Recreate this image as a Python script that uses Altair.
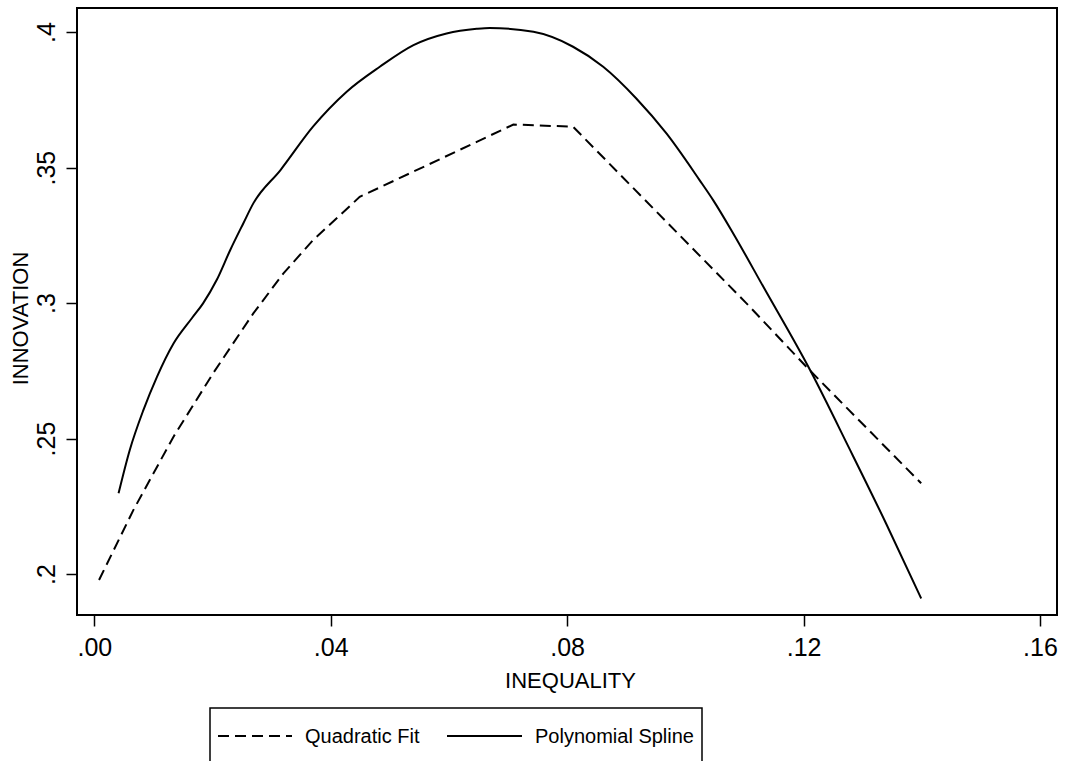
import altair as alt
import pandas as pd

# ---- data ----
quad_x = [0.0008, 0.0066, 0.0134, 0.0201, 0.0269, 0.0320, 0.0370, 0.0449,
          0.0647, 0.0709, 0.0810, 0.1103, 0.1210, 0.1399]
quad_y = [0.1978, 0.2236, 0.2507, 0.2741, 0.2962, 0.3110, 0.3232, 0.3392,
          0.3595, 0.3659, 0.3651, 0.3000, 0.2753, 0.2335]

spline_x = [0.0041, 0.0060, 0.0083, 0.0106, 0.0134, 0.0165, 0.0184, 0.0207, 0.0230, 0.0252,
            0.0269, 0.0315, 0.0370, 0.0427, 0.0483, 0.0540, 0.0596, 0.0647, 0.0669, 0.0743,
            0.0810, 0.0861, 0.0917, 0.0968, 0.1024, 0.1047, 0.1081, 0.1132, 0.1211, 0.1278,
            0.1340, 0.1399]
spline_y = [0.2298, 0.2458, 0.2605, 0.2728, 0.2851, 0.2944, 0.2999, 0.3085, 0.3196, 0.3294,
            0.3368, 0.3491, 0.3651, 0.3780, 0.3872, 0.3952, 0.3995, 0.4012, 0.4015, 0.4001,
            0.3946, 0.3872, 0.3755, 0.3626, 0.3454, 0.3380, 0.3257, 0.3060, 0.2753, 0.2461,
            0.2185, 0.1910]

x_ticks = [0.0, 0.04, 0.08, 0.12, 0.16]
y_ticks = [0.2, 0.25, 0.3, 0.35, 0.4]
legend_labels = ["Quadratic Fit", "Polynomial Spline"]
x_title = "INEQUALITY"
y_title = "INNOVATION"

FONT = "Liberation Sans"

df_quad = pd.DataFrame({"x": quad_x, "y": quad_y})
df_spline = pd.DataFrame({"x": spline_x, "y": spline_y})
df_leg = pd.DataFrame({"label": legend_labels})

x_scale = alt.Scale(domain=[-0.00293, 0.16288], nice=False, zero=False)
y_scale = alt.Scale(domain=[0.1849, 0.4089], nice=False, zero=False)

x_axis = alt.Axis(
    values=x_ticks, labelExpr="substring(format(datum.value, '.2f'), 1)",
    grid=False, domain=False, ticks=True, tickSize=11, tickWidth=1.5, tickColor="black",
    labelFontSize=25, labelPadding=9, labelColor="black", labelFont=FONT,
    title=x_title, titleFontSize=22, titleFont=FONT, titleFontWeight="normal",
    titleColor="black", titleX=493, titleY=65, titleAlign="center", titleBaseline="middle",
)
y_axis = alt.Axis(
    values=y_ticks, labelExpr="substring(format(datum.value, '.2~f'), 1)",
    grid=False, domain=False, ticks=True, tickSize=11, tickWidth=1.5, tickColor="black",
    labelFontSize=25, labelPadding=7, labelColor="black", labelFont=FONT,
    labelAngle=270, labelAlign="center", labelBaseline="bottom",
    title=y_title, titleFontSize=22, titleFont=FONT, titleFontWeight="normal",
    titleColor="black", titleX=-57, titleY=310, titleAngle=270,
    titleAlign="center", titleBaseline="middle",
)

quad = alt.Chart(df_quad).mark_line(
    color="black", strokeWidth=2, strokeDash=[11, 6], interpolate="linear"
).encode(
    x=alt.X("x:Q", scale=x_scale, axis=x_axis),
    y=alt.Y("y:Q", scale=y_scale, axis=y_axis),
)

spline = alt.Chart(df_spline).mark_line(
    color="black", strokeWidth=2, interpolate="monotone"
).encode(
    x=alt.X("x:Q", scale=x_scale),
    y=alt.Y("y:Q", scale=y_scale),
)

# ---- legend drawn below the plot ----
leg_box = alt.Chart(df_leg).transform_filter(
    alt.datum.label == legend_labels[0]
).mark_rect(fill="white", stroke="black", strokeWidth=1.5).encode(
    x=alt.value(133), x2=alt.value(625), y=alt.value(700), y2=alt.value(800)
)
leg_dash = alt.Chart(df_leg).transform_filter(
    alt.datum.label == legend_labels[0]
).mark_rule(color="black", strokeWidth=2, strokeDash=[11, 6]).encode(
    x=alt.value(141), x2=alt.value(215), y=alt.value(728)
)
leg_solid = alt.Chart(df_leg).transform_filter(
    alt.datum.label == legend_labels[1]
).mark_rule(color="black", strokeWidth=2).encode(
    x=alt.value(370), x2=alt.value(445), y=alt.value(728)
)
leg_t1 = alt.Chart(df_leg).transform_filter(
    alt.datum.label == legend_labels[0]
).mark_text(font=FONT, fontSize=20, color="black", align="left", baseline="middle").encode(
    text="label:N", x=alt.value(228), y=alt.value(729)
)
leg_t2 = alt.Chart(df_leg).transform_filter(
    alt.datum.label == legend_labels[1]
).mark_text(font=FONT, fontSize=20, color="black", align="left", baseline="middle").encode(
    text="label:N", x=alt.value(458), y=alt.value(729)
)

chart = alt.layer(quad, spline, leg_box, leg_dash, leg_solid, leg_t1, leg_t2).properties(
    width=980, height=607,
    autosize=alt.AutoSizeParams(type="none"),
    padding={"left": 77, "top": 8, "right": 25, "bottom": 146},
    background="white",
).configure_view(
    stroke="black", strokeWidth=2
)

chart.save("out.html", embed_options={"renderer": "svg", "actions": False})
